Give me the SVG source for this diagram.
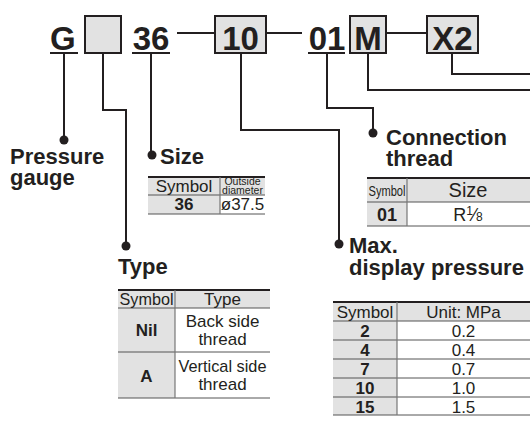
<svg xmlns="http://www.w3.org/2000/svg" width="530" height="439" viewBox="0 0 530 439">
<style>
.code{font-family:"Liberation Sans",Arial,sans-serif;font-weight:bold;font-size:33px;fill:#231f20}
.h{font-family:"Liberation Sans",Arial,sans-serif;font-weight:bold;font-size:22px;fill:#231f20}
.t{font-family:"Liberation Sans",Arial,sans-serif;font-size:17px;fill:#231f20;text-anchor:middle}
.tb{font-family:"Liberation Sans",Arial,sans-serif;font-size:17px;font-weight:bold;fill:#231f20;text-anchor:middle}
.ts{font-family:"Liberation Sans",Arial,sans-serif;font-size:10.5px;fill:#231f20;text-anchor:middle}
.box{fill:#e2e2e2;stroke:#231f20;stroke-width:2}
.ul{stroke:#231f20;stroke-width:2}
.ln{fill:none;stroke:#231f20;stroke-width:2}
.dot{fill:#231f20}
.g{fill:#e2e2e2}
.top{stroke:#231f20;stroke-width:2}
.row{stroke:#555;stroke-width:1}
.col{stroke:#777;stroke-width:1.2}
</style>

<g id="code-row">
<text class="code" x="50" y="50">G</text>
<line class="ul" x1="50" y1="53" x2="78" y2="53"/>
<rect class="box" x="85" y="16" width="36" height="37"/>
<text class="code" x="151" y="50" text-anchor="middle">36</text>
<line class="ul" x1="132" y1="53" x2="170" y2="53"/>
<line class="ul" x1="177" y1="33" x2="215" y2="33"/>
<rect class="box" x="215" y="16" width="51" height="37"/>
<text class="code" x="240.5" y="50" text-anchor="middle">10</text>
<line class="ul" x1="266" y1="33" x2="302" y2="33"/>
<text class="code" x="327" y="50" text-anchor="middle">01</text>
<line class="ul" x1="308" y1="53" x2="345" y2="53"/>
<rect class="box" x="350" y="16" width="36" height="37"/>
<text class="code" x="368" y="50" text-anchor="middle">M</text>
<line class="ul" x1="386" y1="33" x2="427" y2="33"/>
<rect class="box" x="427" y="16" width="51" height="37"/>
<text class="code" x="452.5" y="50" text-anchor="middle">X2</text>
</g>

<g id="connectors">
<path class="ln" d="M64 53 V140"/>
<path class="ln" d="M103 53 V110 H126 V246"/>
<path class="ln" d="M151 53 V155"/>
<path class="ln" d="M241 53 V130 H339 V244"/>
<path class="ln" d="M327 53 V108 H373 V133"/>
<path class="ln" d="M368 53 V90 H530"/>
<path class="ln" d="M452 53 V74 H530"/>
<circle class="dot" cx="64" cy="140" r="4.5"/>
<circle class="dot" cx="126" cy="246" r="4.5"/>
<circle class="dot" cx="152" cy="155" r="4.5"/>
<circle class="dot" cx="339" cy="244" r="4.5"/>
<circle class="dot" cx="373" cy="133" r="4.5"/>
</g>

<g id="pressure-gauge">
<text class="h" x="10" y="164">Pressure</text>
<text class="h" x="10" y="185">gauge</text>
</g>

<g id="size">
<text class="h" x="160" y="164">Size</text>
<rect class="g" x="148" y="177" width="117" height="18"/>
<rect class="g" x="148" y="195" width="72" height="19"/>
<line class="top" x1="148" y1="177" x2="265" y2="177"/>
<line class="row" x1="148" y1="195" x2="265" y2="195"/>
<line class="row" x1="148" y1="214" x2="265" y2="214"/>
<line class="col" x1="220" y1="177" x2="220" y2="214"/>
<text class="t" x="184" y="192">Symbol</text>
<text class="ts" x="242.5" y="185">Outside</text>
<text class="ts" x="242.5" y="194">diameter</text>
<text class="tb" x="184" y="210">36</text>
<text class="t" x="242.5" y="210">ø37.5</text>
</g>

<g id="type">
<text class="h" x="118" y="274">Type</text>
<rect class="g" x="118" y="290" width="152" height="18"/>
<rect class="g" x="118" y="308" width="57" height="90"/>
<line class="top" x1="118" y1="290" x2="270" y2="290"/>
<line class="row" x1="118" y1="308" x2="270" y2="308"/>
<line class="row" x1="118" y1="352" x2="270" y2="352"/>
<line class="row" x1="118" y1="398" x2="270" y2="398"/>
<line class="col" x1="175" y1="290" x2="175" y2="398"/>
<text class="t" x="146.5" y="305" textLength="54" lengthAdjust="spacingAndGlyphs">Symbol</text>
<text class="t" x="222.5" y="305">Type</text>
<text class="tb" x="146.5" y="336">Nil</text>
<text class="t" x="222.5" y="327">Back side</text>
<text class="t" x="222.5" y="345">thread</text>
<text class="tb" x="146.5" y="382">A</text>
<text class="t" x="222.5" y="372" textLength="88" lengthAdjust="spacingAndGlyphs">Vertical side</text>
<text class="t" x="222.5" y="390">thread</text>
</g>

<g id="connection-thread">
<text class="h" x="386" y="145">Connection</text>
<text class="h" x="386" y="166">thread</text>
<rect class="g" x="367" y="178" width="163" height="24"/>
<rect class="g" x="367" y="202" width="40" height="24"/>
<line class="top" x1="367" y1="178" x2="530" y2="178"/>
<line class="row" x1="367" y1="202" x2="530" y2="202"/>
<line class="row" x1="367" y1="226" x2="530" y2="226"/>
<line class="col" x1="407" y1="178" x2="407" y2="226"/>
<text class="t" x="387" y="196" textLength="37" lengthAdjust="spacingAndGlyphs" style="font-size:14px">Symbol</text>
<text class="t" x="468" y="197" style="font-size:20px">Size</text>
<text class="tb" x="387" y="221" style="font-size:18px">01</text>
<text class="t" x="468" y="221" style="font-size:18px">R<tspan font-size="12" dy="-6">1</tspan><tspan dy="6">⁄</tspan><tspan font-size="12">8</tspan></text>
</g>

<g id="max-display-pressure">
<text class="h" x="349" y="253">Max.</text>
<text class="h" x="349" y="275">display pressure</text>
<rect class="g" x="333" y="302" width="197" height="19"/>
<rect class="g" x="333" y="321" width="64" height="94"/>
<line class="top" x1="333" y1="302" x2="530" y2="302"/>
<line class="row" x1="333" y1="321" x2="530" y2="321"/>
<line class="row" x1="333" y1="340" x2="530" y2="340"/>
<line class="row" x1="333" y1="359" x2="530" y2="359"/>
<line class="row" x1="333" y1="378" x2="530" y2="378"/>
<line class="row" x1="333" y1="397" x2="530" y2="397"/>
<line class="row" x1="333" y1="415" x2="530" y2="415"/>
<line class="col" x1="397" y1="302" x2="397" y2="415"/>
<text class="t" x="365" y="318">Symbol</text>
<text class="t" x="463.5" y="318">Unit: MPa</text>
<text class="tb" x="365" y="337">2</text><text class="t" x="463.5" y="337">0.2</text>
<text class="tb" x="365" y="356">4</text><text class="t" x="463.5" y="356">0.4</text>
<text class="tb" x="365" y="375">7</text><text class="t" x="463.5" y="375">0.7</text>
<text class="tb" x="365" y="394">10</text><text class="t" x="463.5" y="394">1.0</text>
<text class="tb" x="365" y="413">15</text><text class="t" x="463.5" y="413">1.5</text>
</g>
</svg>
